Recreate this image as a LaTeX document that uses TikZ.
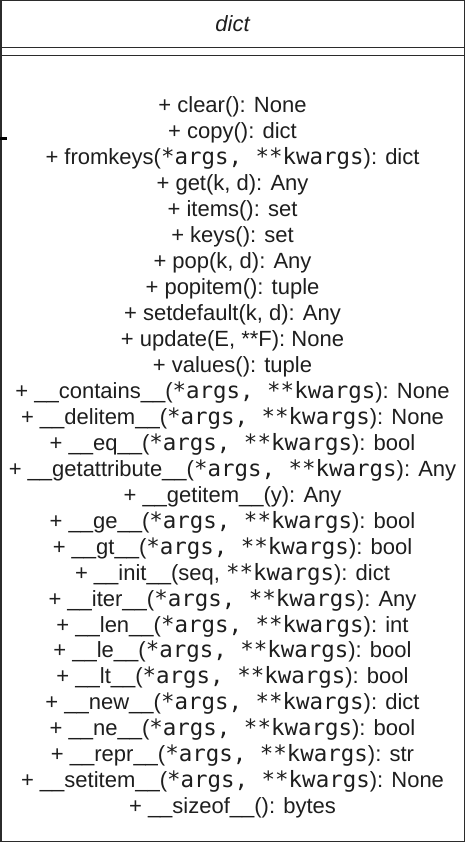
\documentclass[tikz,border=0pt]{standalone}
\usepackage{fontspec}
\setmainfont{Liberation Sans}
\newfontfamily\monofam{DejaVu Sans Mono}[Scale=1.02]
\newcommand{\ak}{{\monofam *args, **kwargs}}
\definecolor{txt}{HTML}{1E1E1E}
\definecolor{edge}{HTML}{2B2B2B}
\tikzset{
  boxline/.style={draw=edge, line width=1.4pt},
  meth/.style={anchor=base, inner sep=0pt, text=txt, font=\fontsize{22}{26}\selectfont},
  ttl/.style={anchor=base, inner sep=0pt, text=txt, font=\fontsize{22}{26}\selectfont\itshape},
}
\begin{document}
\begin{tikzpicture}[x=1pt,y=-1pt]
\useasboundingbox (0,0) rectangle (468,842);
\fill[white] (0,0) rectangle (468,842);
\draw[boxline] (0.8,0.8) rectangle (464.5,841.2);
\draw[boxline] (0.8,47.5) -- (464.5,47.5);
\draw[boxline] (0.8,55.5) -- (464.5,55.5);
\coordinate (tickA) at (0,138.5);
\coordinate (tickB) at (7,138.5);
\draw[line width=2.2pt, black] (tickA) -- (tickB);
\node[ttl] (title) at (232.5,32) {dict};
\foreach \t [count=\i from 0] in {
  {+ clear(): None},
  {+ copy(): dict},
  {+ fromkeys(\ak): dict},
  {+ get(k, d): Any},
  {+ items(): set},
  {+ keys(): set},
  {+ pop(k, d): Any},
  {+ popitem(): tuple},
  {+ setdefault(k, d): Any},
  {+ update(E, **F): None},
  {+ values(): tuple},
  {+ \_\_contains\_\_(\ak): None},
  {+ \_\_delitem\_\_(\ak): None},
  {+ \_\_eq\_\_(\ak): bool},
  {+ \_\_getattribute\_\_(\ak): Any},
  {+ \_\_getitem\_\_(y): Any},
  {+ \_\_ge\_\_(\ak): bool},
  {+ \_\_gt\_\_(\ak): bool},
  {+ \_\_init\_\_(seq, {\monofam **kwargs}): dict},
  {+ \_\_iter\_\_(\ak): Any},
  {+ \_\_len\_\_(\ak): int},
  {+ \_\_le\_\_(\ak): bool},
  {+ \_\_lt\_\_(\ak): bool},
  {+ \_\_new\_\_(\ak): dict},
  {+ \_\_ne\_\_(\ak): bool},
  {+ \_\_repr\_\_(\ak): str},
  {+ \_\_setitem\_\_(\ak): None},
  {+ \_\_sizeof\_\_(): bytes}
}{
  \node[meth] (m\i) at (232.5,{113+25.95*\i}) {\t};
}
\end{tikzpicture}
\end{document}
